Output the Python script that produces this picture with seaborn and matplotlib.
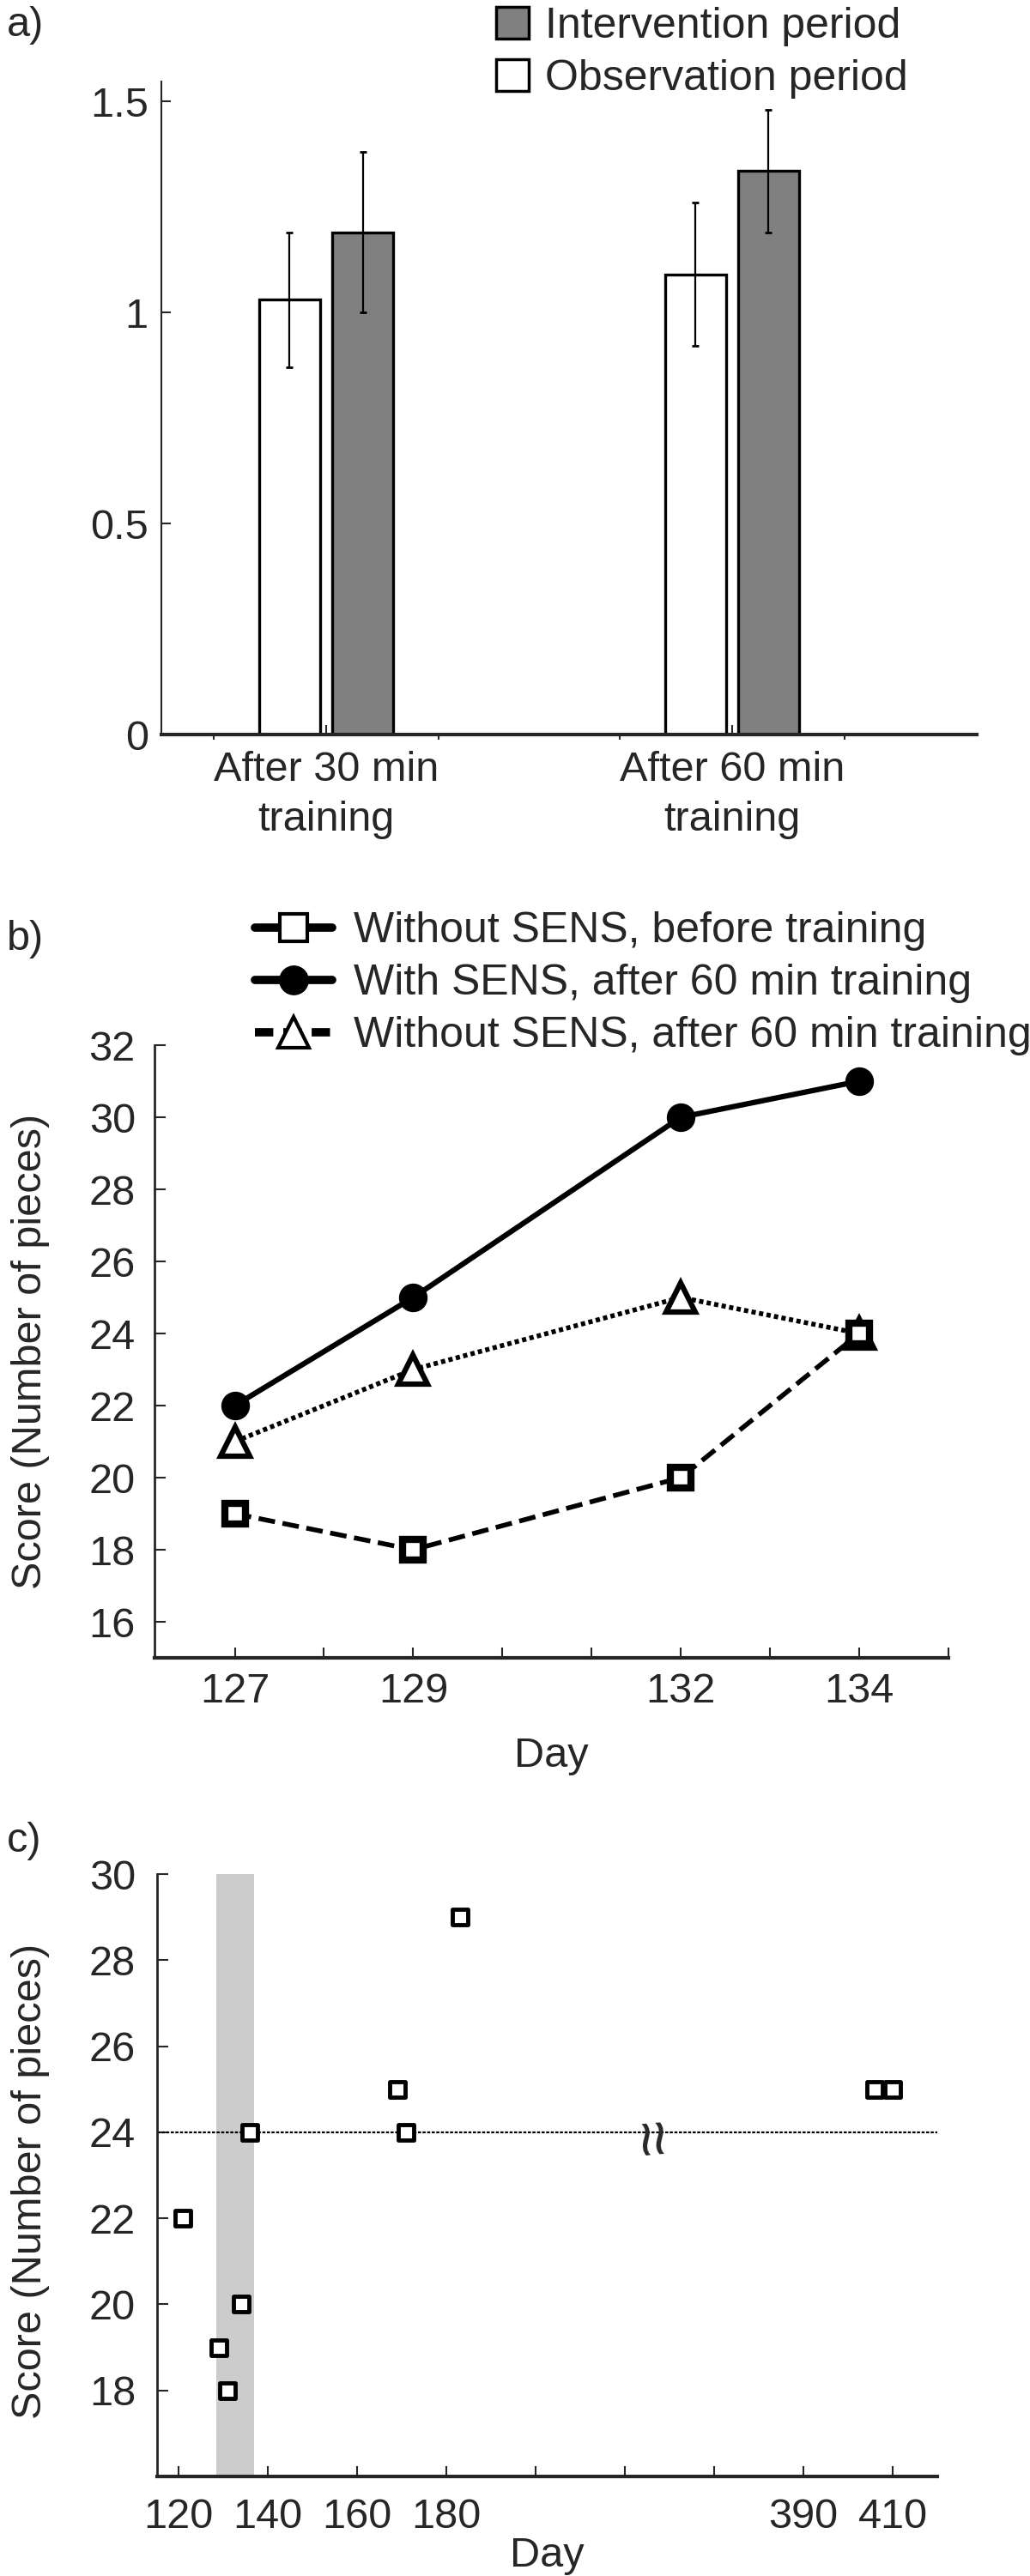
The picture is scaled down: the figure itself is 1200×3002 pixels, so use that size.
import numpy as np
import pandas as pd
import matplotlib
matplotlib.use('Agg')
import matplotlib.pyplot as plt
from matplotlib.lines import Line2D
from matplotlib.patches import Patch
import seaborn as sns

# a) bar chart
conditions = ['After 30 min\ntraining', 'After 60 min\ntraining']
periods = ['Observation period', 'Intervention period']
obs_mean = [1.03, 1.09]
obs_err = [0.16, 0.17]
int_mean = [1.19, 1.335]
int_err = [0.19, 0.145]

# b) daily scores
days_b = [127, 129, 132, 134]
before_nosens = [19, 18, 20, 24]
after60_sens = [22, 25, 30, 31]
after60_nosens = [21, 23, 25, 24]
labels_b = ['Without SENS, before training',
            'With SENS, after 60 min training',
            'Without SENS, after 60 min training']

# c) long-term scores
days_c = [121, 129, 131, 134, 136, 169, 171, 183, 406, 410]
score_c = [22, 19, 18, 20, 24, 25, 24, 29, 25, 25]
sens_days = (128.4, 137.0)
ref_score = 24
ticks_c = [120, 140, 160, 180, 200, 220, 370, 390, 410]
ticklabels_c = ['120', '140', '160', '180', '', '', '', '390', '410']

sns.set_theme(style='ticks')
plt.rcParams['font.family'] = ['Liberation Sans', 'DejaVu Sans']
FS = 35

fig = plt.figure(figsize=(12, 30.02), dpi=100)
W, H = 1200, 3002

def box(l, r, t, b):
    return [l / W, 1 - b / H, (r - l) / W, (b - t) / H]

# ---------------- panel a
ax = fig.add_axes(box(188, 1138, 95, 856))
df_a = pd.DataFrame({'condition': conditions * 2,
                     'period': [periods[0]] * 2 + [periods[1]] * 2,
                     'score': obs_mean + int_mean})
sns.barplot(data=df_a, x='condition', y='score', hue='period', hue_order=periods,
            palette=['white', '#808080'], saturation=1, width=0.36, gap=0.17,
            edgecolor='black', linewidth=2.4, errorbar=None, legend=False, ax=ax)
for p, e in zip(ax.patches, obs_err + int_err):
    ax.errorbar(p.get_x() + p.get_width() / 2, p.get_height(), yerr=e,
                color='black', lw=1.6, capsize=3, capthick=2, zorder=5)
ax.set_xlim(-0.406, 1.603)
ax.set_ylim(0, 1.547)
ax.set_yticks([0, 0.5, 1, 1.5], ['0', '0.5', '1', '1.5'])
ax.set_xticks([-0.277, 0.277, 0.723, 1.277], minor=True)
ax.tick_params(axis='y', direction='in', length=8, width=1.5, pad=11, labelsize=FS)
ax.tick_params(axis='x', which='major', direction='in', length=8, width=1.5, pad=14, labelsize=FS)
ax.tick_params(axis='x', which='minor', direction='out', length=4, width=1.5)
for t in ax.get_xticklabels():
    t.set_linespacing(1.35)
ax.set_xlabel('')
ax.set_ylabel('')
sns.despine(ax=ax)
ax.spines['left'].set_linewidth(1.5)
ax.spines['bottom'].set_linewidth(3)
fig.legend([Patch(facecolor='#808080', edgecolor='black', lw=2.5),
            Patch(facecolor='white', edgecolor='black', lw=2.5)],
           ['Intervention period', 'Observation period'],
           loc='upper left', bbox_to_anchor=(578 / W, 1 - 8 / H), frameon=False,
           fontsize=36, handlelength=0.76, handleheight=0.74, handletextpad=0.38,
           labelspacing=0.3, borderpad=0, borderaxespad=0)
fig.text(8 / W, 1 - 30 / H, 'a)', fontsize=FS, va='center', ha='left')

# ---------------- panel b
ax = fig.add_axes(box(180, 1105, 1218, 1932))
sns.lineplot(x=days_b, y=after60_nosens, ax=ax, color='black', lw=4,
             linestyle=(0, (0.9, 0.7)), marker='^', markersize=24,
             markerfacecolor='white', mec='black', mew=4.5, zorder=3)
sns.lineplot(x=days_b, y=before_nosens, ax=ax, color='black', lw=4,
             linestyle=(0, (3.5, 1.6)), marker='s', markersize=17,
             markerfacecolor='white', mec='black', mew=6, zorder=3)
sns.lineplot(x=days_b, y=after60_sens, ax=ax, color='black', lw=4.5,
             marker='o', markersize=23, markerfacecolor='black', mec='black',
             mew=1, zorder=4)
ax.set_xlim(126.1, 135)
ax.set_ylim(15, 32)
ax.set_xticks(range(127, 136),
              ['127', '', '129', '', '', '132', '', '134', ''])
ax.set_yticks(range(16, 33, 2))
ax.tick_params(axis='both', direction='in', length=9, width=1.5, labelsize=FS)
ax.tick_params(axis='y', pad=16)
ax.tick_params(axis='x', pad=12)
ax.set_xlabel('Day', fontsize=FS, labelpad=22)
ax.set_ylabel('Score (Number of pieces)', fontsize=FS, va='center')
ax.yaxis.set_label_coords((36 - 180) / 925, 0.5)
sns.despine(ax=ax)
ax.spines['left'].set_linewidth(2)
ax.spines['bottom'].set_linewidth(3)
hb = [Line2D([], [], color='black', lw=7, marker='s', ms=23, mfc='white', mec='black', mew=3),
      Line2D([], [], color='black', lw=7, marker='o', ms=24, mfc='black', mec='black'),
      Line2D([], [], color='black', lw=7, ls=(0, (2.2, 1.2)), marker='^', ms=26,
             mfc='white', mec='black', mew=3)]
fig.legend(hb, labels_b, loc='upper left', bbox_to_anchor=(297 / W, 1 - 1062 / H),
           frameon=False, fontsize=36, handlelength=1.8, handletextpad=0.5,
           labelspacing=0.3, borderpad=0, borderaxespad=0)
fig.text(8 / W, 1 - 1095 / H, 'b)', fontsize=FS, va='center', ha='left')

# ---------------- panel c (broken day axis)
brk_left, brk_right = 227.0, 357.0

def fwd(d):
    d = np.asarray(d, dtype=float)
    return np.where(d <= brk_left, (d - 120) / 20,
                    np.where(d >= brk_right, 7 + (d - 390) / 20, (brk_left - 120) / 20))

def inv(p):
    p = np.asarray(p, dtype=float)
    return np.where(p <= (brk_left - 120) / 20, 120 + 20 * p, 390 + 20 * (p - 7))

ax = fig.add_axes(box(183, 1092, 2184, 2886))
ax.set_xscale('function', functions=(fwd, inv))
ax.axvspan(*sens_days, color='#cccccc', lw=0, zorder=0)
ax.axhline(ref_score, color='black', lw=1.6, ls=(0, (1.6, 0.8)), zorder=1)
sns.scatterplot(x=days_c, y=score_c, ax=ax, marker='s', s=170, color='white',
                edgecolor='black', linewidth=3.5, zorder=3)
ax.text(brk_left, ref_score - 0.08, '≈', rotation=95, fontsize=54,
        ha='center', va='center', zorder=4)
ax.set_xlim(115.2, 420)
ax.set_ylim(16, 30)
ax.set_xticks(ticks_c, ticklabels_c)
ax.set_yticks(range(18, 31, 2))
ax.tick_params(axis='both', direction='in', length=9, width=1.5, labelsize=FS)
ax.tick_params(axis='y', pad=18)
ax.tick_params(axis='x', pad=18)
ax.set_xlabel('Day', fontsize=FS, labelpad=0)
ax.set_ylabel('Score (Number of pieces)', fontsize=FS, va='center')
ax.yaxis.set_label_coords((36 - 183) / 909, 0.49)
sns.despine(ax=ax)
ax.spines['left'].set_linewidth(2)
ax.spines['bottom'].set_linewidth(3)
fig.text(8 / W, 1 - 2146 / H, 'c)', fontsize=FS, va='center', ha='left')

fig.savefig('out.png', dpi=100)
